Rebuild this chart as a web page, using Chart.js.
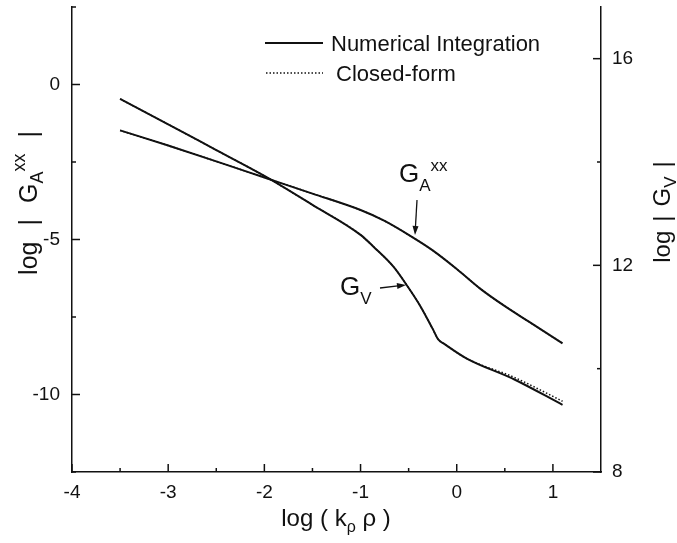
<!DOCTYPE html>
<html>
<head>
<meta charset="utf-8">
<script src="https://cdn.jsdelivr.net/npm/chart.js@4.4.1/dist/chart.umd.min.js"></script>
<style>
  html, body { margin: 0; padding: 0; background: #fff; }
</style>
</head>
<body>
<canvas id="green-chart" width="677" height="543"></canvas>
<script>
// tick positions
const xTicks = [-4, -3, -2, -1, 0, 1];
const xMinorTicks = [-3.5, -2.5, -1.5, -0.5, 0.5];
const leftTicks = [0, -5, -10];
const leftMinorTicks = [2.5, -2.5, -7.5, -12.5];
const rightTicks = [16, 12, 8];
const rightMinorTicks = [14, 10];

// G_A^xx (left axis)
const gaX = [-3.5, -3, -2.5, -2, -1.5, -1, -0.75, -0.5, -0.25, 0, 0.25, 0.5, 0.75, 1.1];
const gaNumerical = [-1.48, -1.97, -2.48, -3.0, -3.52, -4.05, -4.4, -4.85, -5.35, -5.95, -6.6, -7.15, -7.65, -8.35];
const gaClosedForm = [-1.48, -1.97, -2.48, -3.0, -3.52, -4.05, -4.4, -4.85, -5.35, -5.95, -6.6, -7.15, -7.65, -8.35];

// G_V (right axis)
const gvX = [-3.5, -3, -2.5, -2, -1.5, -1, -0.865, -0.656, -0.51, -0.375, -0.25, -0.19, -0.13, 0.1, 0.6, 1.1];
const gvNumerical = [15.22, 14.73, 14.23, 13.73, 13.17, 12.59, 12.36, 11.97, 11.59, 11.2, 10.77, 10.56, 10.48, 10.2, 9.79, 9.3];
const gvClosedForm = [15.22, 14.73, 14.23, 13.73, 13.17, 12.59, 12.36, 11.97, 11.59, 11.2, 10.77, 10.56, 10.48, 10.2, 9.83, 9.37];

const FONT = "'Liberation Sans', Arial, Helvetica, sans-serif";
const INK = '#111';

function toPoints(xs, ys) {
  return xs.map((x, i) => ({ x: x, y: ys[i] }));
}

function richWidth(ctx, parts) {
  let w = 0;
  parts.forEach(p => {
    ctx.font = p.size + 'px ' + FONT;
    w += (p.gap || 0) + ctx.measureText(p.text).width;
  });
  return w;
}

function drawRich(ctx, parts, x, y) {
  let cx = x;
  parts.forEach(p => {
    ctx.font = p.size + 'px ' + FONT;
    cx += p.gap || 0;
    ctx.fillText(p.text, cx, y + (p.dy || 0));
    cx += ctx.measureText(p.text).width;
  });
}

function arrow(ctx, x1, y1, x2, y2) {
  const a = Math.atan2(y2 - y1, x2 - x1);
  ctx.beginPath();
  ctx.moveTo(x1, y1);
  ctx.lineTo(x2 - 6 * Math.cos(a), y2 - 6 * Math.sin(a));
  ctx.stroke();
  ctx.beginPath();
  ctx.moveTo(x2, y2);
  ctx.lineTo(x2 - 9 * Math.cos(a) + 3 * Math.sin(a), y2 - 9 * Math.sin(a) - 3 * Math.cos(a));
  ctx.lineTo(x2 - 9 * Math.cos(a) - 3 * Math.sin(a), y2 - 9 * Math.sin(a) + 3 * Math.cos(a));
  ctx.closePath();
  ctx.fill();
}

const extras = {
  id: 'extras',
  afterDraw(chart) {
    const ctx = chart.ctx;
    const area = chart.chartArea;
    const sx = chart.scales.x, sl = chart.scales.yLeft, sr = chart.scales.yRight;
    ctx.save();
    ctx.strokeStyle = INK;
    ctx.fillStyle = INK;
    ctx.lineWidth = 1.5;

    // inward tick marks
    const tick = (x1, y1, x2, y2) => { ctx.beginPath(); ctx.moveTo(x1, y1); ctx.lineTo(x2, y2); ctx.stroke(); };
    xTicks.forEach(v => { const p = sx.getPixelForValue(v); tick(p, area.bottom, p, area.bottom - 8); });
    xMinorTicks.forEach(v => { const p = sx.getPixelForValue(v); tick(p, area.bottom, p, area.bottom - 4); });
    leftTicks.forEach(v => { const p = sl.getPixelForValue(v); tick(area.left, p, area.left + 8, p); });
    leftMinorTicks.forEach(v => { const p = sl.getPixelForValue(v); tick(area.left, p, area.left + 4, p); });
    rightTicks.forEach(v => { const p = sr.getPixelForValue(v); tick(area.right, p, area.right - 8, p); });
    rightMinorTicks.forEach(v => { const p = sr.getPixelForValue(v); tick(area.right, p, area.right - 4, p); });

    // legend
    ctx.lineWidth = 2;
    tick(265, 43, 323, 43);
    ctx.lineWidth = 1.5;
    ctx.setLineDash([1.5, 2]);
    tick(266, 73, 323, 73);
    ctx.setLineDash([]);
    ctx.textBaseline = 'alphabetic';
    ctx.textAlign = 'left';
    ctx.font = '22px ' + FONT;
    ctx.fillText('Numerical Integration', 331, 51);
    ctx.fillText('Closed-form', 336, 81);

    // curve labels
    drawRich(ctx, [
      { text: 'G', size: 26 },
      { text: 'A', size: 17, dy: 9 },
      { text: 'xx', size: 17, dy: -11 }
    ], 399, 182);
    ctx.lineWidth = 1.3;
    arrow(ctx, 417, 200, 415, 235);
    drawRich(ctx, [
      { text: 'G', size: 26 },
      { text: 'V', size: 17, dy: 9 }
    ], 340, 295);
    arrow(ctx, 380, 288, 406, 285);

    // axis titles
    const xTitle = [
      { text: 'log ( k', size: 24 },
      { text: 'ρ', size: 16, dy: 6 },
      { text: ' ρ )', size: 24 }
    ];
    drawRich(ctx, xTitle, 336 - richWidth(ctx, xTitle) / 2, 526);

    const leftTitle = [
      { text: 'log', size: 25 },
      { text: '|', size: 25, gap: 16 },
      { text: 'G', size: 25, gap: 16 },
      { text: 'A', size: 18, dy: 6 },
      { text: 'xx', size: 18, dy: -12 },
      { text: '|', size: 25, gap: 16 }
    ];
    ctx.save();
    ctx.translate(28, 203);
    ctx.rotate(-Math.PI / 2);
    drawRich(ctx, leftTitle, -richWidth(ctx, leftTitle) / 2, 9);
    ctx.restore();

    const rightTitle = [
      { text: 'log', size: 24 },
      { text: '|', size: 24, gap: 9 },
      { text: 'G', size: 24, gap: 9 },
      { text: 'V', size: 17, dy: 6 },
      { text: '|', size: 24, gap: 9 }
    ];
    ctx.save();
    ctx.translate(661, 212);
    ctx.rotate(-Math.PI / 2);
    drawRich(ctx, rightTitle, -richWidth(ctx, rightTitle) / 2, 9);
    ctx.restore();

    ctx.restore();
  }
};

const tickFont = { family: FONT, size: 19 };
const axisBorder = { display: true, color: INK, width: 1.5 };

// keep the plot box fixed: no extra room for overhanging labels
function fixHeight(h) {
  return scale => { scale.height = h; scale.paddingLeft = 0; scale.paddingRight = 0; };
}
function fixWidth(w) {
  return scale => { scale.width = w; scale.paddingTop = 0; scale.paddingBottom = 0; };
}

new Chart(document.getElementById('green-chart'), {
  type: 'line',
  data: {
    datasets: [
      { label: 'G_A numerical', data: toPoints(gaX, gaNumerical), yAxisID: 'yLeft', borderColor: INK, borderWidth: 2 },
      { label: 'G_A closed-form', data: toPoints(gaX, gaClosedForm), yAxisID: 'yLeft', borderColor: INK, borderWidth: 1.5, borderDash: [1.5, 2] },
      { label: 'G_V numerical', data: toPoints(gvX, gvNumerical), yAxisID: 'yRight', borderColor: INK, borderWidth: 2 },
      { label: 'G_V closed-form', data: toPoints(gvX, gvClosedForm), yAxisID: 'yRight', borderColor: INK, borderWidth: 1.5, borderDash: [1.5, 2] }
    ]
  },
  options: {
    responsive: false,
    animation: false,
    layout: { padding: { top: 7, left: 0, right: 0, bottom: 0 } },
    plugins: { legend: { display: false }, tooltip: { enabled: false } },
    elements: {
      point: { radius: 0 },
      line: { cubicInterpolationMode: 'monotone', fill: false }
    },
    scales: {
      x: {
        type: 'linear', min: -4, max: 1.5,
        afterBuildTicks: axis => { axis.ticks = xTicks.map(v => ({ value: v })); },
        afterFit: fixHeight(71),
        grid: { display: false, drawTicks: false },
        border: axisBorder,
        ticks: { color: INK, font: tickFont, padding: 9, callback: v => String(v) }
      },
      yLeft: {
        type: 'linear', position: 'left', min: -12.5, max: 2.5,
        afterBuildTicks: axis => { axis.ticks = leftTicks.map(v => ({ value: v })); },
        afterFit: fixWidth(72),
        grid: { display: false, drawTicks: false },
        border: axisBorder,
        ticks: { color: INK, font: tickFont, padding: 12, callback: v => String(v) }
      },
      yRight: {
        type: 'linear', position: 'right', min: 8, max: 17,
        afterBuildTicks: axis => { axis.ticks = rightTicks.map(v => ({ value: v })); },
        afterFit: fixWidth(76),
        grid: { display: false, drawTicks: false },
        border: axisBorder,
        ticks: { color: INK, font: tickFont, padding: 11, callback: v => String(v) }
      }
    }
  },
  plugins: [extras]
});
</script>
</body>
</html>
